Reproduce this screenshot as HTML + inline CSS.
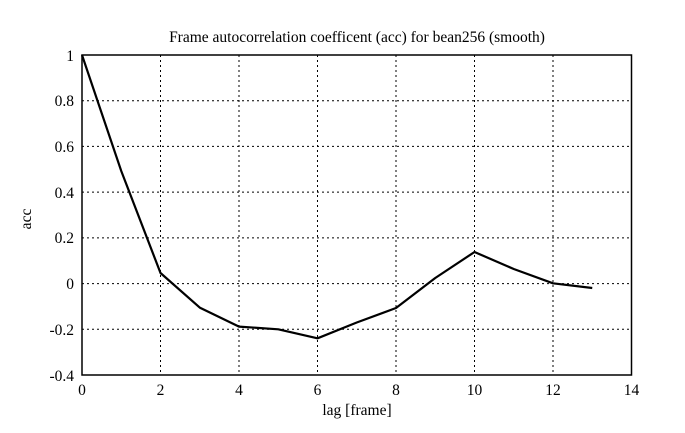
<!DOCTYPE html>
<html><head><style>body{margin:0;background:#fff}svg{display:block}</style></head><body>
<svg width="685" height="433" xmlns="http://www.w3.org/2000/svg" font-family="Liberation Serif, serif" font-size="15.5">
<rect width="685" height="433" fill="#fff"/>
<g stroke="#000" stroke-width="1" stroke-dasharray="2,3">
<line x1="160.5" y1="55" x2="160.5" y2="375"/><line x1="239" y1="55" x2="239" y2="375"/><line x1="317.5" y1="55" x2="317.5" y2="375"/><line x1="396" y1="55" x2="396" y2="375"/><line x1="474.5" y1="55" x2="474.5" y2="375"/><line x1="553" y1="55" x2="553" y2="375"/>
<line x1="82" y1="100.7" x2="631.5" y2="100.7"/><line x1="82" y1="146.4" x2="631.5" y2="146.4"/><line x1="82" y1="192.1" x2="631.5" y2="192.1"/><line x1="82" y1="237.9" x2="631.5" y2="237.9"/><line x1="82" y1="283.6" x2="631.5" y2="283.6"/><line x1="82" y1="329.3" x2="631.5" y2="329.3"/>
</g>
<rect x="82" y="55" width="549.5" height="320" fill="none" stroke="#000" stroke-width="1.5"/>
<polyline fill="none" stroke="#000" stroke-width="2.2" stroke-linejoin="round" points="82,55 121.25,171 160.5,273 199.75,307.6 239,326.6 278.25,329.3 317.5,338.3 356.75,322.5 396,308 435.25,278 474.5,252 513.75,269 553,283.3 592.25,288"/>
<g text-anchor="end">
<text x="74" y="61">1</text><text x="74" y="106">0.8</text><text x="74" y="152">0.6</text><text x="74" y="198">0.4</text><text x="74" y="243">0.2</text><text x="74" y="289">0</text><text x="74" y="335">-0.2</text><text x="74" y="381">-0.4</text>
</g>
<g text-anchor="middle">
<text x="82" y="395">0</text><text x="160.5" y="395">2</text><text x="239" y="395">4</text><text x="317.5" y="395">6</text><text x="396" y="395">8</text><text x="474.5" y="395">10</text><text x="553" y="395">12</text><text x="631.5" y="395">14</text>
<text x="357" y="415">lag [frame]</text>
<text x="357" y="42">Frame autocorrelation coefficent (acc) for bean256 (smooth)</text>
<text transform="translate(31,219) rotate(-90)">acc</text>
</g>
</svg>
</body></html>
